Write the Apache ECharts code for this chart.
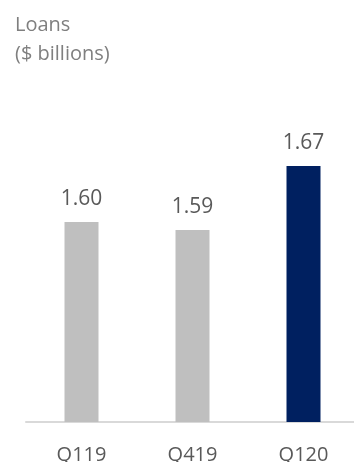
<!DOCTYPE html>
<html>
<head>
<meta charset="utf-8">
<script src="https://cdn.jsdelivr.net/npm/echarts@6/dist/echarts.min.js"></script>
<style>
  html, body { margin: 0; padding: 0; background: #fff; }
  #main { width: 354px; height: 462px; }
</style>
</head>
<body>
<div id="main"></div>
<script>
const categories = ['Q119', 'Q419', 'Q120']
const loans = [1.60, 1.59, 1.67]
const barColors = ['#bfbfbf', '#bfbfbf', '#002060']

const chart = echarts.init(document.getElementById('main'))
const option = {
  animation: false,
  textStyle: { fontFamily: 'Open Sans' },
  title: {
    text: 'Loans\n($ billions)',
    left: 10,
    top: 6,
    textStyle: {
      color: '#7f7f7f',
      fontSize: 20,
      fontWeight: 'normal',
      lineHeight: 29
    }
  },
  grid: { left: 26, width: 333, top: 102, bottom: 40, outerBoundsMode: 'none' },
  xAxis: {
    type: 'category',
    data: categories,
    axisLine: { lineStyle: { color: '#d9d9d9', width: 2 } },
    axisTick: { show: false },
    axisLabel: { color: '#595959', fontSize: 20, margin: 23 }
  },
  yAxis: {
    type: 'value',
    min: 1.35,
    max: 1.75,
    show: false,
    splitLine: { show: false }
  },
  series: [{
    type: 'bar',
    barWidth: 34,
    data: loans.map((v, i) => ({ value: v, itemStyle: { color: barColors[i] } })),
    label: {
      show: true,
      position: 'top',
      distance: 12,
      color: '#595959',
      fontSize: 21,
      formatter: p => p.value.toFixed(2)
    }
  }]
}
chart.setOption(option)
</script>
</body>
</html>
